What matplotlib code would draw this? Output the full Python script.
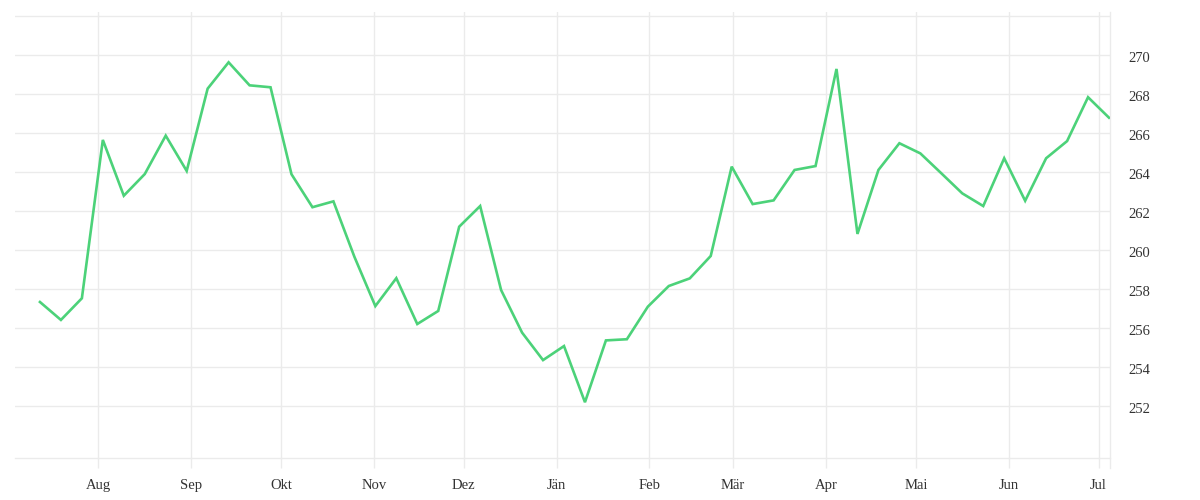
import matplotlib
matplotlib.use('Agg')
import matplotlib.pyplot as plt
import matplotlib.transforms as mtransforms
import pandas as pd

# ---- data ----
start_date = '2022-07-12 12:00'
values = [257.35, 256.43, 257.54, 265.66, 262.80, 263.91, 265.88, 264.07,
          268.29, 269.64, 268.46, 268.36, 263.90, 262.21, 262.51, 259.67,
          257.14, 258.57, 256.22, 256.89, 261.21, 262.27, 257.96, 255.78,
          254.37, 255.09, 252.21, 255.38, 255.44, 257.11, 258.17, 258.56,
          259.71, 264.29, 262.37, 262.56, 264.12, 264.32, 269.30, 260.84,
          264.12, 265.49, 264.97, 263.95, 262.92, 262.27, 264.72, 262.54,
          264.72, 265.60, 267.85, 266.80]
month_starts = ['2022-08-01', '2022-09-01', '2022-10-01', '2022-11-01',
                '2022-12-01', '2023-01-01', '2023-02-01', '2023-03-01',
                '2023-04-01', '2023-05-01', '2023-06-01', '2023-07-01']
month_labels = ['Aug', 'Sep', 'Okt', 'Nov', 'Dez', 'Jän', 'Feb', 'Mär',
                'Apr', 'Mai', 'Jun', 'Jul']
y_ticks = [252, 254, 256, 258, 260, 262, 264, 266, 268, 270, 272]
y_labels = ['252', '254', '256', '258', '260', '262', '264', '266', '268', '270', '']

dates = pd.date_range(start_date, periods=len(values), freq='7D')
month_ticks = pd.to_datetime(month_starts)

grid_c = '#ebebeb'
text_c = '#333333'
line_c = '#4cd279'

plt.rcParams['font.family'] = ['Liberation Serif', 'DejaVu Serif']

fig = plt.figure(figsize=(12, 5), dpi=100)
ax = fig.add_axes([15 / 1200, 1 - 458 / 500, (1110 - 15) / 1200, (458 - 12) / 500])

ax.plot(dates, values, color=line_c, linewidth=1.9, solid_joinstyle='miter', zorder=3)

ax.set_xlim(pd.Timestamp('2022-07-04 04:00'), pd.Timestamp('2023-07-04 20:00'))
ax.set_ylim(249.35, 272.22)

ax.set_xticks(month_ticks)
ax.set_xticklabels(month_labels)
ax.set_yticks(y_ticks)
ax.set_yticklabels(y_labels)

ax.yaxis.tick_right()
ax.grid(True, color=grid_c, linewidth=1, zorder=0)
ax.set_axisbelow(True)

ax.tick_params(axis='x', length=7.2, width=1, color=grid_c, labelsize=10.5,
               labelcolor=text_c, pad=8)
ax.tick_params(axis='y', length=0, labelsize=10.5, labelcolor=text_c, pad=13)

for s in ['top', 'left', 'right']:
    ax.spines[s].set_visible(False)
ax.spines['bottom'].set_color(grid_c)
ax.spines['bottom'].set_linewidth(1)

# right border line extending below the axis like a tick
ax.plot([1, 1], [-10 / 446, 1], transform=ax.transAxes, color=grid_c,
        linewidth=1, clip_on=False, zorder=0)

offset = mtransforms.ScaledTranslation(0, -2 / 100, fig.dpi_scale_trans)
for lbl in ax.get_yticklabels():
    lbl.set_transform(lbl.get_transform() + offset)

fig.savefig('out.png', dpi=100, facecolor='white')
